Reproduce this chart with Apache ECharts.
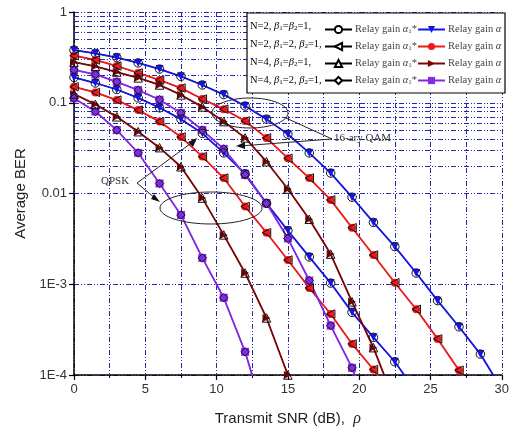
<!DOCTYPE html>
<html>
<head>
<meta charset="utf-8">
<script src="https://cdn.jsdelivr.net/npm/echarts@6/dist/echarts.min.js"></script>
<style>html,body{margin:0;padding:0;background:#fff}#chart{width:512px;height:433px}</style>
</head>
<body>
<div id="chart"></div>
<script>
// transmit SNR (dB) of every marker
var snr = [0, 1.5, 3, 4.5, 6, 7.5, 9, 10.5, 12, 13.5, 15, 16.5, 18, 19.5, 21, 22.5, 24, 25.5, 27, 28.5, 30];

// 16-ary QAM
var qamN2b11 = [0.38, 0.35, 0.315, 0.275, 0.235, 0.195, 0.157, 0.123, 0.092, 0.066, 0.045, 0.028, 0.0168, 0.0091, 0.0048, 0.0026, 0.00133, 0.00066, 0.00034, 0.00017, 0.00007];
var qamN2b21 = [0.33, 0.296, 0.254, 0.213, 0.178, 0.145, 0.11, 0.085, 0.063, 0.041, 0.0244, 0.0148, 0.0085, 0.0042, 0.0021, 0.00104, 0.00053, 0.00025, 0.000113, 0.00005];
var qamN4b11 = [0.28, 0.252, 0.218, 0.188, 0.157, 0.122, 0.09, 0.062, 0.041, 0.0224, 0.0112, 0.0052, 0.00215, 0.00064, 0.0002, 0.00005];
var qamN4b21 = [0.23, 0.205, 0.17, 0.138, 0.108, 0.077, 0.05, 0.031, 0.016, 0.0078, 0.0032, 0.0011, 0.00035, 0.00012, 0.00003];

// QPSK
var qpskN2b11 = [0.19, 0.165, 0.14, 0.113, 0.088, 0.066, 0.046, 0.028, 0.0165, 0.0078, 0.0039, 0.002, 0.00103, 0.00049, 0.00026, 0.00014, 0.000065];
var qpskN2b21 = [0.15, 0.13, 0.107, 0.083, 0.062, 0.042, 0.0255, 0.0148, 0.0072, 0.0037, 0.00185, 0.00091, 0.00047, 0.00022, 0.000115, 0.000052];
var qpskN4b11 = [0.125, 0.096, 0.07, 0.048, 0.032, 0.0197, 0.0089, 0.0035, 0.00133, 0.000425, 0.0001, 0.00002];
var qpskN4b21 = [0.112, 0.08, 0.05, 0.028, 0.0129, 0.0058, 0.00195, 0.00071, 0.00018, 0.00003];

var yTickLabels = ['1E-4', '1E-3', '0.01', '0.1', '1'];
var rowLabels = [
  '{t|N=2, }{g|β}{s|1}{t|=}{g|β}{s|2}{t|=1,}',
  '{t|N=2, }{g|β}{s|1}{t|=2, }{g|β}{s|2}{t|=1,}',
  '{t|N=4, }{g|β}{s|1}{t|=}{g|β}{s|2}{t|=1,}',
  '{t|N=4, }{g|β}{s|1}{t|=2, }{g|β}{s|2}{t|=1,}'
];

var tri = {
  down: 'path://M0,0 L10,0 L5,10 Z',
  left: 'path://M10,0 L0,5 L10,10 Z',
  right: 'path://M0,0 L10,5 L0,10 Z'
};

var configs = [
  { key: 'N2b11', color: '#1515e6', sym: tri.down, open: 'circle', qam: qamN2b11, qpsk: qpskN2b11 },
  { key: 'N2b21', color: '#f01818', sym: 'circle', open: tri.left, qam: qamN2b21, qpsk: qpskN2b21 },
  { key: 'N4b11', color: '#7a0606', sym: tri.right, open: 'triangle', qam: qamN4b11, qpsk: qpskN4b11 },
  { key: 'N4b21', color: '#8428e8', sym: 'rect', open: 'diamond', qam: qamN4b21, qpsk: qpskN4b21 }
];

function pairs(vals) {
  return vals.map(function (v, i) { return [snr[i], v]; });
}

// minor log grid lines 2..9 of each decade
var minorGrid = [];
for (var d = -4; d < 0; d++) {
  for (var m = 2; m <= 9; m++) minorGrid.push({ yAxis: m * Math.pow(10, d) });
}

var gridStyle = { color: '#2626b0', width: 1, type: [5, 2, 1, 2, 1, 2] };
var serif = 'Liberation Serif';
var sans = 'Liberation Sans';

var series = [{
  type: 'line', name: 'grid', data: [], z: 1, silent: true,
  markLine: {
    silent: true, symbol: 'none', animation: false, z: 1,
    label: { show: false },
    lineStyle: gridStyle,
    emphasis: { disabled: true },
    data: minorGrid
  }
}];

// relay gain alpha1*: black lines (markers drawn later as outlines)
configs.forEach(function (c) {
  [c.qam, c.qpsk].forEach(function (vals) {
    series.push({
      type: 'line', name: c.key + '*', data: pairs(vals), z: 3,
      symbol: c.open, symbolSize: 8, showSymbol: false,
      lineStyle: { color: '#000', width: 1 },
      itemStyle: { color: '#fff', borderColor: '#000', borderWidth: 1 },
      animation: false
    });
  });
});
// relay gain alpha: coloured lines, filled markers
configs.forEach(function (c) {
  [c.qam, c.qpsk].forEach(function (vals) {
    series.push({
      type: 'line', name: c.key, data: pairs(vals), z: 4,
      symbol: c.sym, symbolSize: 8, showAllSymbol: true,
      lineStyle: { color: c.color, width: 1.8 },
      itemStyle: { color: c.color, borderWidth: 0 },
      animation: false
    });
  });
});
// alpha1* open markers on top
configs.forEach(function (c) {
  [c.qam, c.qpsk].forEach(function (vals) {
    series.push({
      type: 'line', name: c.key + ' open', data: pairs(vals), z: 5, silent: true,
      symbol: c.open, symbolSize: 8.5, showAllSymbol: true,
      lineStyle: { width: 0, opacity: 0 },
      itemStyle: { color: 'rgba(0,0,0,0)', borderColor: '#111', borderWidth: 1 },
      animation: false
    });
  });
});

var legendRich = {
  t: { fontFamily: serif, fontSize: 10.5, color: '#444' },
  g: { fontFamily: serif, fontStyle: 'italic', fontSize: 10.5, color: '#444' },
  s: { fontFamily: serif, fontSize: 7, color: '#444', verticalAlign: 'bottom', padding: [4, 0, 0, 0] }
};

function legendFor(star, left) {
  return {
    orient: 'vertical', left: left, top: 19, selectedMode: false,
    itemWidth: 27, itemHeight: 9, itemGap: 6,
    data: configs.map(function (c) { return star ? c.key + '*' : c.key; }),
    formatter: function () {
      return star ? '{t|Relay gain }{g|α}{s|1}{t|*}' : '{t|Relay gain }{g|α}';
    },
    textStyle: { rich: legendRich, padding: [0, 0, 0, -2] },
    z: 6
  };
}

var graphics = [{
  type: 'rect', z: 5,
  shape: { x: 247, y: 13, width: 258, height: 80 },
  style: { fill: '#fff', stroke: '#000', lineWidth: 1.2 }
}];
rowLabels.forEach(function (txt, i) {
  graphics.push({
    type: 'text', z: 6, left: 250, top: 21 + i * 18,
    style: { text: txt, rich: legendRich }
  });
});

var ann = { stroke: '#222', lineWidth: 1, fill: 'none' };
graphics.push(
  { type: 'ellipse', z: 5, shape: { cx: 250, cy: 113, rx: 38, ry: 15 }, style: ann },
  { type: 'polyline', z: 5, shape: { points: [[286, 118], [332, 139], [240, 146]] }, style: ann },
  { type: 'polygon', z: 5, shape: { points: [[236, 146], [245, 142], [245, 149]] }, style: { fill: '#111' } },
  { type: 'text', z: 5, left: 334, top: 133, style: { text: '16-ary QAM', font: '11px ' + serif, fill: '#333' } },
  { type: 'ellipse', z: 5, shape: { cx: 211, cy: 208, rx: 51, ry: 16 }, style: ann },
  { type: 'polyline', z: 5, shape: { points: [[194, 141], [137, 183], [156, 199]] }, style: ann },
  { type: 'polygon', z: 5, shape: { points: [[197, 138], [188, 142], [193, 147]] }, style: { fill: '#111' } },
  { type: 'polygon', z: 5, shape: { points: [[160, 202], [151, 199], [154, 194]] }, style: { fill: '#111' } },
  { type: 'text', z: 5, left: 101, top: 176, style: { text: 'QPSK', font: '11px ' + serif, fill: '#333' } }
);

var chart = echarts.init(document.getElementById('chart'), null, { renderer: 'canvas' });
chart.setOption({
  animation: false,
  backgroundColor: '#fff',
  grid: { left: 74, right: 1, top: 12, bottom: 58 },
  xAxis: {
    type: 'value', min: 0, max: 30, interval: 5,
    name: '{t|Transmit SNR (dB),  }{r|ρ}', nameLocation: 'middle', nameGap: 36,
    nameTextStyle: { rich: {
      t: { fontFamily: sans, fontSize: 15, color: '#222' },
      r: { fontFamily: serif, fontStyle: 'italic', fontSize: 16, color: '#222' }
    } },
    axisLine: { lineStyle: { color: '#000', width: 1.5 } },
    axisTick: { length: 5, lineStyle: { color: '#000', width: 1.2 } },
    minorTick: { show: true, splitNumber: 2, length: 3, lineStyle: { color: '#000' } },
    axisLabel: { fontFamily: sans, fontSize: 13, color: '#333', margin: 8 },
    splitLine: { show: true, lineStyle: gridStyle },
    minorSplitLine: { show: true, lineStyle: gridStyle }
  },
  yAxis: {
    type: 'log', logBase: 10, min: 0.0001, max: 1,
    name: 'Average BER', nameLocation: 'middle', nameGap: 42,
    nameTextStyle: { fontFamily: sans, fontSize: 15, color: '#222' },
    axisLine: { show: true, lineStyle: { color: '#000', width: 1.5 } },
    axisTick: { show: true, length: 5, lineStyle: { color: '#000', width: 1.2 } },
    axisLabel: {
      fontFamily: sans, fontSize: 13, color: '#333', margin: 7,
      formatter: function (v) { return yTickLabels[Math.round(Math.log10(v)) + 4]; }
    },
    splitLine: { show: true, lineStyle: gridStyle }
  },
  legend: [legendFor(true, 319), legendFor(false, 412)],
  graphic: graphics,
  series: series
});
</script>
</body>
</html>
